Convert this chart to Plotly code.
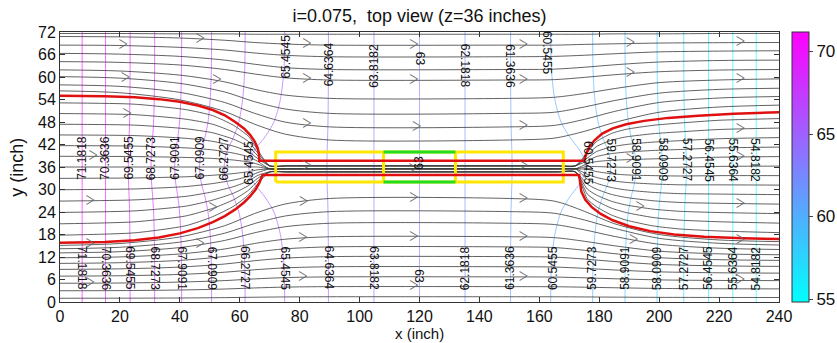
import plotly.graph_objects as go

# ---------------- data ----------------
LEVELS = [54.8182, 55.6364, 56.4545, 57.2727, 58.0909, 58.9091, 59.7273, 60.5455,
          61.3636, 62.1818, 63.0, 63.8182, 64.6364, 65.4545, 66.2727, 67.0909,
          67.9091, 68.7273, 69.5455, 70.3636, 71.1818]

CONTOUR_Y = [0, 10, 18, 24, 28, 31, 33, 36, 39, 41, 44, 48, 54, 62, 72]

CONTOUR_X = [
    [232.4] * 15,
    [224.6] * 15,
    [216.5] * 15,
    [208.2, 208.22, 208.31, 208.47, 208.7, 208.92, 209.04, 209.1, 209.04, 208.92, 208.7, 208.47, 208.31, 208.22, 208.2],
    [199.3, 199.34, 199.52, 199.84, 200.29, 200.74, 200.97, 201.1, 200.97, 200.74, 200.29, 199.84, 199.52, 199.34, 199.3],
    [188.6, 188.67, 189.04, 189.71, 190.64, 191.56, 192.04, 192.3, 192.04, 191.56, 190.64, 189.71, 189.04, 188.67, 188.6],
    [177.8, 177.92, 178.52, 179.6, 181.1, 182.6, 183.38, 183.8, 183.38, 182.6, 181.1, 179.6, 178.52, 177.92, 177.8],
    [163.8, 164.03, 165.18, 167.25, 170.13, 173.0, 174.5, 175.3, 174.5, 173.0, 170.13, 167.25, 165.18, 164.03, 163.8],
    [150.4, 150.4, 150.46, 150.55, 150.68, 150.8, 150.87, 150.9, 150.87, 150.8, 150.68, 150.55, 150.46, 150.4, 150.4],
    [135.2] * 15,
    [120.0] * 15,
    [104.8] * 15,
    [89.6, 89.6, 89.54, 89.45, 89.33, 89.2, 89.14, 89.1, 89.14, 89.2, 89.33, 89.45, 89.54, 89.6, 89.6],
    [75.0, 74.76, 73.56, 71.4, 68.4, 65.4, 63.84, 63.0, 63.84, 65.4, 68.4, 71.4, 73.56, 74.76, 75.0],
    [61.8, 61.66, 60.96, 59.7, 57.95, 56.2, 55.29, 54.8, 55.29, 56.2, 57.95, 59.7, 60.96, 61.66, 61.8],
    [50.6, 50.52, 50.12, 49.4, 48.4, 47.4, 46.88, 46.6, 46.88, 47.4, 48.4, 49.4, 50.12, 50.52, 50.6],
    [40.6, 40.55, 40.32, 39.91, 39.34, 38.76, 38.46, 38.3, 38.46, 38.76, 39.34, 39.91, 40.32, 40.55, 40.6],
    [31.6, 31.58, 31.46, 31.24, 30.94, 30.64, 30.48, 30.4, 30.48, 30.64, 30.94, 31.24, 31.46, 31.58, 31.6],
    [23.4, 23.4, 23.33, 23.22, 23.07, 22.92, 22.84, 22.8, 22.84, 22.92, 23.07, 23.22, 23.33, 23.4, 23.4],
    [15.2] * 15,
    [7.4] * 15,
]

# contour labels: value, x, y, text angle
LABEL_VALUE = [71.1818, 70.3636, 69.5455, 68.7273, 67.9091, 67.0909, 66.2727, 65.4545,
               71.1818, 70.3636, 69.5455, 68.7273, 67.9091, 67.0909, 66.2727, 65.4545, 64.6364, 63.8182, 63.0,
               62.1818, 61.3636, 60.5455, 59.7273, 58.9091, 58.0909, 57.2727, 56.4545, 55.6364, 54.8182,
               65.4545, 64.6364, 63.8182, 63.0, 62.1818, 61.3636, 60.5455,
               60.5455, 59.7273, 58.9091, 58.0909, 57.2727, 56.4545, 55.6364, 54.8182,
               63.0]
LABEL_X = [7.3, 15.0, 22.9, 30.5, 38.3, 46.6, 54.9, 62.8,
           7.4, 15.2, 23.4, 31.6, 40.6, 50.6, 61.8, 75.0, 89.6, 104.8, 120.0,
           135.2, 150.4, 164.5, 177.8, 188.8, 199.3, 208.3, 216.5, 224.6, 232.4,
           75.5, 89.6, 104.8, 120.0, 135.2, 150.4, 162.8,
           176.0, 183.8, 192.3, 201.1, 209.1, 216.5, 224.6, 232.0,
           120.0]
LABEL_Y = [38.4, 38.4, 38.4, 38.4, 38.4, 38.4, 38.4, 37.2,
           9.0, 9.0, 9.0, 9.0, 9.0, 9.0, 9.0, 9.0, 9.0, 9.0, 7.0,
           9.0, 9.0, 9.0, 9.0, 9.0, 9.0, 9.0, 9.0, 9.0, 9.0,
           65.5, 63.5, 63.0, 65.0, 63.0, 63.0, 66.5,
           37.0, 37.8, 37.8, 37.8, 37.8, 37.8, 37.8, 37.8,
           37.0]
LABEL_ANGLE = [-90] * 8 + [90] * 11 + [-90] * 10 + [-90, -90, -90, 90, 90, 90, 90] + [90] * 8 + [-90]

# streamlines outside the captured band
X_OUT = [0, 20, 40, 55, 65, 75, 90, 150, 165, 175, 185, 200, 220, 240]
UPPER_STREAMS = [
    [71.6, 71.6, 71.5, 71.5, 71.4, 71.4, 71.4, 71.4, 71.4, 71.4, 71.5, 71.5, 71.6, 71.6],
    [70.8, 70.7, 70.4, 69.8, 69.2, 68.8, 68.5, 68.5, 68.5, 68.7, 68.85, 69.05, 69.15, 69.2],
    [68.5, 68.4, 67.9, 67.2, 66.4, 65.8, 65.4, 65.4, 65.5, 65.8, 66.2, 66.7, 66.9, 67.0],
    [66.3, 66.1, 65.5, 64.5, 63.4, 62.5, 62.0, 62.0, 62.1, 62.6, 63.25, 64.0, 64.4, 64.5],
    [64.1, 63.9, 63.2, 62.0, 60.8, 59.8, 59.2, 59.2, 59.3, 59.9, 60.6, 61.4, 61.85, 62.0],
    [61.9, 61.6, 60.5, 58.7, 56.7, 55.2, 54.3, 54.3, 54.6, 55.6, 56.9, 58.5, 59.2, 59.5],
    [60.1, 59.7, 58.3, 56.0, 53.4, 51.5, 50.3, 50.3, 50.6, 52.0, 53.7, 55.7, 56.7, 57.0],
    [57.9, 57.5, 55.9, 53.2, 50.3, 48.0, 46.7, 46.7, 47.1, 48.7, 50.8, 53.2, 54.4, 54.8],
    [56.3, 55.8, 53.9, 50.8, 47.4, 44.8, 43.2, 43.2, 43.7, 45.5, 47.85, 50.6, 52.0, 52.5],
]
LOWER_STREAMS = [
    [1.0, 1.02, 1.07, 1.17, 1.27, 1.35, 1.4, 1.4, 1.39, 1.35, 1.3, 1.24, 1.21, 1.2],
    [3.0, 3.04, 3.2, 3.46, 3.75, 3.97, 4.1, 4.1, 4.07, 3.95, 3.8, 3.62, 3.53, 3.5],
    [5.0, 5.07, 5.31, 5.71, 6.16, 6.5, 6.7, 6.7, 6.65, 6.45, 6.2, 5.9, 5.75, 5.7],
    [6.9, 7.0, 7.35, 7.95, 8.6, 9.1, 9.4, 9.4, 9.32, 8.98, 8.55, 8.04, 7.79, 7.7],
    [8.7, 8.84, 9.31, 10.13, 11.01, 11.69, 12.1, 12.1, 11.97, 11.45, 10.8, 10.02, 9.63, 9.5],
    [10.3, 10.48, 11.09, 12.15, 13.29, 14.17, 14.7, 14.7, 14.52, 13.8, 12.9, 11.82, 11.28, 11.1],
    [11.8, 12.02, 12.81, 14.15, 15.61, 16.73, 17.4, 17.4, 17.16, 16.2, 15.0, 13.56, 12.84, 12.6],
    [13.1, 13.42, 14.52, 16.42, 18.47, 20.05, 21.0, 21.0, 20.65, 19.25, 17.5, 15.4, 14.35, 14.0],
    [14.2, 14.6, 15.98, 18.36, 20.93, 22.91, 24.1, 24.1, 23.66, 21.88, 19.65, 16.98, 15.65, 15.2],
    [15.1, 15.6, 17.35, 20.35, 23.6, 26.1, 27.6, 27.6, 26.9, 24.2, 20.9, 18.0, 16.55, 16.1],
]

# streamlines captured by the drain (converge into it, fan out after it)
X_FAN = [0, 25, 42, 51, 58, 63, 66, 70, 76, 120, 166, 172, 176, 179, 184, 189, 198, 207, 220, 240]
FAN_STREAMS = [
    [53.1, 52.74, 51.3, 49.68, 47.07, 44.1, 40.5, 36.3, 36.3, 36.3, 36.3, 36.3, 39.9, 42.72, 44.91, 46.05, 47.11, 47.73, 48.46, 48.91],
    [50.25, 49.95, 48.75, 47.4, 45.23, 42.75, 39.75, 36.3, 36.3, 36.3, 36.3, 36.3, 39.15, 41.4, 43.13, 44.03, 44.88, 45.38, 46.0, 46.38],
    [47.4, 47.16, 46.2, 45.12, 43.38, 41.4, 39.0, 36.3, 36.3, 36.3, 36.3, 36.3, 38.4, 40.08, 41.34, 42.0, 42.64, 43.02, 43.54, 43.84],
    [44.55, 44.37, 43.65, 42.84, 41.54, 40.05, 38.25, 36.3, 36.3, 36.3, 36.3, 36.3, 37.65, 38.76, 39.56, 39.98, 40.41, 40.67, 41.08, 41.31],
    [41.7, 41.58, 41.1, 40.56, 39.69, 38.7, 37.5, 35.5, 35.5, 35.5, 35.5, 35.5, 36.9, 37.44, 37.77, 37.95, 38.17, 38.31, 38.62, 38.77],
    [38.85, 38.79, 38.55, 38.28, 37.85, 37.35, 36.75, 35.5, 35.5, 35.5, 35.5, 35.5, 36.15, 36.12, 35.99, 35.93, 35.94, 35.96, 36.16, 36.24],
    [36.0, 36.0, 36.0, 36.0, 36.0, 36.0, 36.0, 35.5, 35.5, 35.5, 35.5, 35.5, 35.4, 34.8, 34.2, 33.9, 33.7, 33.6, 33.7, 33.7],
    [32.97, 33.08, 33.39, 33.8, 34.26, 34.77, 35.25, 35.5, 35.5, 35.5, 35.5, 35.5, 34.08, 33.24, 32.37, 31.89, 31.47, 31.25, 31.24, 31.17],
    [29.94, 30.15, 30.78, 31.59, 32.52, 33.54, 34.5, 35.5, 35.5, 35.5, 35.5, 35.5, 32.76, 31.68, 30.54, 29.88, 29.23, 28.89, 28.78, 28.63],
    [26.91, 27.23, 28.17, 29.39, 30.78, 32.31, 33.75, 34.7, 34.7, 34.7, 34.7, 34.7, 31.44, 30.12, 28.71, 27.87, 27.0, 26.54, 26.32, 26.1],
    [23.88, 24.3, 25.56, 27.18, 29.04, 31.08, 33.0, 34.7, 34.7, 34.7, 34.7, 34.7, 30.12, 28.56, 26.88, 25.86, 24.76, 24.18, 23.86, 23.56],
    [20.85, 21.38, 22.95, 24.98, 27.3, 29.85, 32.25, 34.7, 34.7, 34.7, 34.7, 34.7, 28.8, 27.0, 25.05, 23.85, 22.53, 21.83, 21.4, 21.03],
    [17.82, 18.45, 20.34, 22.77, 25.56, 28.62, 31.5, 34.7, 34.7, 34.7, 34.7, 34.7, 27.48, 25.44, 23.22, 21.84, 20.29, 19.47, 18.94, 18.49],
]

# capture-zone boundary (red)
RED_UPPER_X = [0, 15, 25, 33, 40, 46, 51, 55, 58.5, 61.5, 63.5, 65, 66, 66.4, 66.5,
               175, 175.6, 176.8, 178.5, 181, 184.5, 189, 195, 203, 213, 225, 240]
RED_UPPER_Y = [55, 54.9, 54.6, 54.1, 53.4, 52.4, 51.2, 49.8, 48, 46.2, 44.5, 42.8, 41, 39.5, 37.7,
               37.7, 39.5, 41.5, 43.2, 44.9, 46.3, 47.4, 48.3, 49.1, 49.7, 50.2, 50.6]
RED_LOWER_X = [0, 15, 25, 33, 40, 46, 51, 55, 58.5, 61.5, 63.5, 65.3, 66.6, 67.3, 67.6,
               173.3, 173.5, 174, 175.3, 177.5, 180.5, 184.5, 190, 197, 205, 215, 228, 240]
RED_LOWER_Y = [15.8, 16.0, 16.5, 17.2, 18.3, 19.7, 21.3, 22.9, 24.7, 26.6, 28.2, 30.0, 31.9, 33.2, 33.9,
               33.9, 32, 29.5, 27.3, 25.3, 23.5, 21.8, 20.2, 18.9, 18.0, 17.4, 17.0, 16.8]

# drain sections (yellow) and the middle section (green)
DRAIN_X = [72, 108, 132, 168]
DRAIN_Y = [32, 40]

# flow direction arrows
ARROW_X = [11, 10, 10, 10,
           21, 21.7, 22.3,
           46.7, 52.3, 51, 46.7,
           82.3, 82.3, 82.3, 82.3, 81.2, 81, 81,
           118, 118, 119, 117.8, 118, 118, 118,
           154.6, 154.6, 154.6, 154.6, 154.6, 154.6, 154.6,
           190.3, 190.3, 190.3, 193.6, 191.4,
           227, 227, 227, 227, 227, 227, 227]
ARROW_Y = [38.8, 26.9, 15.3, 5.0,
           68.4, 59.7, 50.0,
           70.15, 59.1, 25.0, 15.4,
           68.65, 59.5, 47.3, 36.3, 26.7, 17.0, 6.6,
           68.5, 59.2, 46.7, 35.5, 27.6, 17.4, 4.1,
           68.5, 59.2, 46.8, 36.3, 27.4, 17.3, 6.7,
           68.9, 60.9, 38.0, 25.3, 16.6,
           69.2, 59.3, 46.1, 38.7, 26.2, 16.4, 5.7]

CMIN, CMAX = 54.8182, 71.1818
X_TICKS = list(range(0, 241, 20))
Y_TICKS = list(range(0, 73, 6))
CB_TICKS = [55, 60, 65, 70]

FONT = "Liberation Sans, Arial, sans-serif"


def cool(v):
    t = (v - CMIN) / (CMAX - CMIN)
    t = min(max(t, 0), 1)
    return f"rgb({int(255 * t)},{int(255 * (1 - t))},255)"


def fmt(v):
    return f"{v:.4f}".rstrip("0").rstrip(".")


fig = go.Figure()

# head contours
for lev, xs in zip(LEVELS, CONTOUR_X):
    fig.add_trace(go.Scatter(x=xs, y=CONTOUR_Y, mode="lines",
                             line=dict(color=cool(lev), width=1, shape="spline", smoothing=0.8),
                             opacity=0.6, hoverinfo="skip", showlegend=False))

# streamlines
for ys in UPPER_STREAMS + LOWER_STREAMS:
    fig.add_trace(go.Scatter(x=X_OUT, y=ys, mode="lines",
                             line=dict(color="#3a3a3a", width=0.8, shape="spline", smoothing=0.8),
                             hoverinfo="skip", showlegend=False))
for ys in FAN_STREAMS:
    fig.add_trace(go.Scatter(x=X_FAN, y=ys, mode="lines",
                             line=dict(color="#3a3a3a", width=0.8, shape="spline", smoothing=0.6),
                             hoverinfo="skip", showlegend=False))

# drain rectangles
x0, x1, x2, x3 = DRAIN_X
yb, yt = DRAIN_Y
fig.add_trace(go.Scatter(x=[x0, x3, x3, x0, x0], y=[yb, yb, yt, yt, yb], mode="lines",
                         line=dict(color="#ffe600", width=3), hoverinfo="skip", showlegend=False))
fig.add_trace(go.Scatter(x=[x1, x1, None, x2, x2], y=[yb, yt, None, yb, yt], mode="lines",
                         line=dict(color="#ffe600", width=3), hoverinfo="skip", showlegend=False))
fig.add_trace(go.Scatter(x=[x1, x2, None, x1, x2], y=[yb, yb, None, yt, yt], mode="lines",
                         line=dict(color="#22dd22", width=3), hoverinfo="skip", showlegend=False))

# red capture boundaries
for xs, ys in [(RED_UPPER_X, RED_UPPER_Y), (RED_LOWER_X, RED_LOWER_Y)]:
    fig.add_trace(go.Scatter(x=xs, y=ys, mode="lines",
                             line=dict(color="#e01010", width=2.5), hoverinfo="skip", showlegend=False))

# arrows (thin open chevrons)
fig.add_trace(go.Scatter(x=ARROW_X, y=ARROW_Y, mode="text", text=[">"] * len(ARROW_X),
                         textposition="middle center",
                         textfont=dict(family="Inter, Liberation Sans, sans-serif", size=19,
                                       weight=200, color="#666666"),
                         hoverinfo="skip", showlegend=False))

# colorbar carrier
fig.add_trace(go.Scatter(x=[-100], y=[-100], mode="markers",
                         marker=dict(color=[CMIN], cmin=CMIN, cmax=CMAX,
                                     colorscale=[[0, "#00ffff"], [1, "#ff00ff"]],
                                     showscale=True,
                                     colorbar=dict(x=1.018, xanchor="left", y=0.5, yanchor="middle",
                                                   len=1.0, lenmode="fraction", thickness=17,
                                                   thicknessmode="pixels", xpad=0, ypad=0,
                                                   outlinecolor="#333", outlinewidth=1,
                                                   tickvals=CB_TICKS, ticks="outside", ticklen=4,
                                                   tickfont=dict(family=FONT, size=17, color="#111"))),
                         hoverinfo="skip", showlegend=False))

annotations = []
for v, x, y, a in zip(LABEL_VALUE, LABEL_X, LABEL_Y, LABEL_ANGLE):
    annotations.append(dict(x=x, y=y, xref="x", yref="y", text=fmt(v), textangle=a,
                            showarrow=False, font=dict(family=FONT, size=12, color="#111")))
annotations.append(dict(x=0.5, y=-0.151, xref="paper", yref="paper", text="x (inch)",
                        showarrow=False, yanchor="bottom", borderpad=0,
                        font=dict(family=FONT, size=15, color="#111")))
annotations.append(dict(x=-0.06, y=0.5, xref="paper", yref="paper", text="y (inch)", textangle=-90,
                        showarrow=False, xanchor="center", font=dict(family=FONT, size=18, color="#111")))

axis_common = dict(showgrid=False, zeroline=False, showline=True, mirror="ticks", linecolor="#333",
                   linewidth=1, ticks="inside", ticklen=5, tickcolor="#333", automargin=False,
                   tickfont=dict(family=FONT, size=16, color="#111"))

fig.update_layout(
    width=837, height=343,
    margin=dict(l=60, r=58, t=32, b=41, autoexpand=False),
    paper_bgcolor="white", plot_bgcolor="white",
    title=dict(text="i=0.075,\u00a0 top view (z=36 inches)", x=0.5, xref="paper", xanchor="center",
               y=0.953, yanchor="middle", font=dict(family=FONT, size=18, color="#111")),
    xaxis=dict(range=[0, 240], tickvals=X_TICKS, **axis_common),
    yaxis=dict(range=[0, 72], tickvals=Y_TICKS, **axis_common),
    annotations=annotations,
)

fig.write_html("out.html")
